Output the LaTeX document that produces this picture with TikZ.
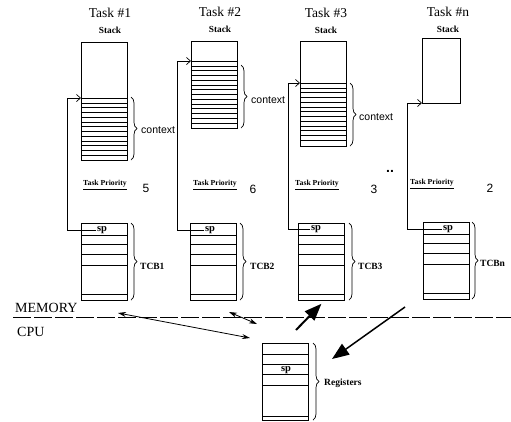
\documentclass[tikz,border=0pt]{standalone}
\usepackage{fontspec}
\setmainfont{Liberation Serif}
\newfontfamily\sansfont{Liberation Sans}
\usetikzlibrary{arrows.meta, positioning, decorations.pathreplacing}

\begin{document}
\begin{tikzpicture}[x=1pt, y=-1pt,
  box/.style={rectangle, draw, line width=0.8pt, anchor=north west, inner sep=0pt, minimum width=46pt},
  title/.style={font=\fontsize{13.5}{15}\selectfont, inner sep=0pt},
  sublbl/.style={font=\bfseries\fontsize{9.3}{10}\selectfont, inner sep=0pt},
  ctx/.style={font=\sansfont\fontsize{10.5}{12}\selectfont, inner sep=0pt, anchor=west},
  num/.style={font=\sansfont\fontsize{12}{14}\selectfont, inner sep=0pt},
  prio/.style={font=\bfseries\fontsize{7.7}{9}\selectfont, inner sep=0pt},
  lbl/.style={font=\bfseries\fontsize{9.5}{11}\selectfont, inner sep=0pt, anchor=west},
  splbl/.style={font=\bfseries\fontsize{10.5}{12}\selectfont, inner sep=0.5pt},
  brc/.style={decorate, decoration={brace, amplitude=6pt}, line width=0.7pt},
  row/.style={line width=0.7pt},
  thick row/.style={line width=1pt},
  thin row/.style={line width=0.45pt},
  ptr/.style={line width=0.7pt, -{Straight Barb[length=4pt, width=7pt]}},
  swap/.style={line width=0.8pt, {Stealth[length=8pt, width=5pt]}-{Stealth[length=8pt, width=5pt]}},
  big/.style={-{Triangle[length=17pt, width=13pt]}},
]
\useasboundingbox (0,0) rectangle (511,421);

% titles
\node[title] (t1) at (110,13) {Task \#1};
\node[title] (t2) at (220,12) {Task \#2};
\node[title] (t3) at (326,13) {Task \#3};
\node[title] (tn) at (448,12) {Task \#n};
\node[sublbl, below=9pt of t1] (st1) {Stack};
\node[sublbl, below=9pt of t2] (st2) {Stack};
\node[sublbl, below=9pt of t3] (st3) {Stack};
\node[sublbl, below=9pt of tn] (stn) {Stack};

% stacks
\node[box, minimum height=118pt] (stk1) at (81,42) {};
\node[box, minimum height=87pt] (stk2) at (191,41) {};
\node[box, minimum height=105pt] (stk3) at (300,41) {};
\node[box, minimum width=38pt, minimum height=65pt] (stkn) at (422,38) {};
\foreach \y in {98,107.5,...,158} \draw[thick row] (81,\y) -- (127,\y);
\foreach \y in {102.8,112.3,...,158} \draw[thin row] (81,\y) -- (127,\y);
\foreach \y in {61,70.5,...,126} \draw[thick row] (191,\y) -- (237,\y);
\foreach \y in {65.8,75.3,...,126} \draw[thin row] (191,\y) -- (237,\y);
\foreach \y in {83,92.5,...,144} \draw[thick row] (300,\y) -- (346,\y);
\foreach \y in {87.8,97.3,...,144} \draw[thin row] (300,\y) -- (346,\y);
\coordinate (top1) at (81,98);
\coordinate (top2) at (191,61);
\coordinate (top3) at (300,83);
\coordinate (topn) at (422,103);

% context braces
\draw[brc] (131,97) -- (131,160);
\draw[brc] (241,65) -- (241,128);
\draw[brc] (350,83) -- (350,146);
\node[ctx] (cx1) at (141,130) {context};
\node[ctx] (cx2) at (251,100) {context};
\node[ctx] (cx3) at (359,117) {context};

% priorities
\node[prio] (p1) at (105,185) {\underline{Task Priority}};
\node[prio] (p2) at (215,185) {\underline{Task Priority}};
\node[prio] (p3) at (317,185) {\underline{Task Priority}};
\node[prio] (pn) at (432,184) {\underline{Task Priority}};
\node[num] (n1) at (146,188) {5};
\node[num] (n2) at (253,189) {6};
\node[num] (n3) at (374,189) {3};
\node[num] (nn) at (490,188) {2};
\node[font=\sansfont\bfseries\fontsize{14}{14}\selectfont, inner sep=0pt] (dots) at (390,171) {..};

% TCBs
\node[box, minimum height=77pt] (tcb1) at (81,223) {};
\node[box, minimum height=77pt] (tcb2) at (190,223) {};
\node[box, minimum height=77pt] (tcb3) at (298,223) {};
\node[box, minimum height=77pt] (tcbn) at (423,222) {};
\foreach \y in {235,244,254,265,294} {
  \draw[row] (81,\y) -- (127,\y);
  \draw[row] (190,\y) -- (236,\y);
  \draw[row] (298,\y) -- (344,\y);
  \draw[row] (423,\y-1) -- (469,\y-1);
}
\node[splbl] (sp1) at (102,230) {sp};
\node[splbl] (sp2) at (210,230) {sp};
\node[splbl] (sp3) at (316,229) {sp};
\node[splbl] (spn) at (448,229) {sp};
\draw[brc] (131,223) -- (131,300);
\draw[brc] (240,223) -- (240,300);
\draw[brc] (349,223) -- (349,300);
\draw[brc] (472,222) -- (472,299);
\node[lbl] (l1) at (140,266) {TCB1};
\node[lbl] (l2) at (250,266) {TCB2};
\node[lbl] (l3) at (358,266) {TCB3};
\node[lbl] (ln) at (480,263) {TCBn};

% stack pointers
\draw[ptr] (sp1.west) -- ++(-29,0) |- (top1);
\draw[ptr] (sp2.west) -- ++(-27,0) |- (top2);
\draw[ptr] (sp3.west) -- ++(-22,0) |- (top3);
\draw[ptr] (spn.west) -- ++(-35,0) |- (topn);

% memory / cpu
\draw[line width=0.7pt, dash pattern=on 18pt off 3pt] (13,317) -- (511,317);
\node[font=\fontsize{14}{16}\selectfont, inner sep=0pt, anchor=west] (mem) at (15,308) {MEMORY};
\node[font=\fontsize{14}{16}\selectfont, inner sep=0pt, anchor=west] (cpu) at (17,332) {CPU};

% registers
\node[box, minimum height=77pt] (reg) at (262,343) {};
\foreach \y in {354,364,374,385,416} \draw[row] (262,\y) -- (308,\y);
\node[splbl] (spr) at (286,370) {sp};
\draw[brc] (313,343) -- (313,420);
\node[lbl] (lr) at (324,383) {Registers};

% context switch
\coordinate (m1) at (118,313);
\coordinate (c1) at (250,338);
\coordinate (m2) at (229,312);
\coordinate (c2) at (257,324);
\coordinate (r3) at (296,330);
\coordinate (rn) at (405,307);
\coordinate (rin) at (332,359);
\draw[swap] (m1) -- (c1);
\draw[swap] (m2) -- (c2);
\draw[big, line width=2pt] (r3) -- ([yshift=-3pt]tcb3.south);
\draw[big, line width=1.5pt] (rn) -- (rin);
\end{tikzpicture}
\end{document}
